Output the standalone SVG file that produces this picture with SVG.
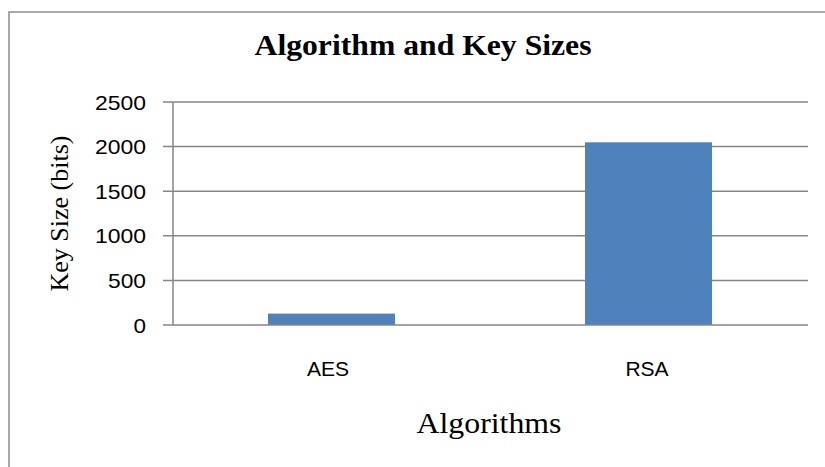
<svg xmlns="http://www.w3.org/2000/svg" width="825" height="467" viewBox="0 0 825 467">
<style>
.frame{fill:none;stroke:#8c8c8c;stroke-width:1.5}
.grid{stroke:#868686;stroke-width:1.5}
.bar{fill:#4f81bd}
.tick{font-family:"Liberation Sans",Arial,sans-serif;font-size:21px;fill:#000;text-anchor:end}
.cat{font-family:"Liberation Sans",Arial,sans-serif;font-size:21px;fill:#000;text-anchor:middle}
.serif{font-family:"Liberation Serif","Times New Roman",serif;fill:#000;text-anchor:middle}
</style>
<rect width="825" height="467" fill="#fff"/>
<path class="frame" d="M9,467 V12 H825"/>
<text class="serif" x="423" y="55" font-size="30" font-weight="bold" textLength="337" lengthAdjust="spacingAndGlyphs">Algorithm and Key Sizes</text>
<g id="axes">
<line class="grid" x1="163" y1="102" x2="808" y2="102"/>
<line class="grid" x1="163" y1="146.6" x2="808" y2="146.6"/>
<line class="grid" x1="163" y1="191.2" x2="808" y2="191.2"/>
<line class="grid" x1="163" y1="235.8" x2="808" y2="235.8"/>
<line class="grid" x1="163" y1="280.4" x2="808" y2="280.4"/>
<line class="grid" x1="173" y1="102" x2="173" y2="325"/>
</g>
<g id="bar-aes"><rect class="bar" x="268" y="313.6" width="127" height="11.4"/></g>
<g id="bar-rsa"><rect class="bar" x="585" y="142.3" width="127" height="182.7"/></g>
<line class="grid" x1="163" y1="325" x2="808" y2="325"/>
<g id="y-labels">
<text class="tick" x="146" y="109.5" textLength="51" lengthAdjust="spacingAndGlyphs">2500</text>
<text class="tick" x="146" y="154.1" textLength="51" lengthAdjust="spacingAndGlyphs">2000</text>
<text class="tick" x="146" y="198.7" textLength="51" lengthAdjust="spacingAndGlyphs">1500</text>
<text class="tick" x="146" y="243.3" textLength="51" lengthAdjust="spacingAndGlyphs">1000</text>
<text class="tick" x="146" y="287.9" textLength="38" lengthAdjust="spacingAndGlyphs">500</text>
<text class="tick" x="146" y="332.5" textLength="12.5" lengthAdjust="spacingAndGlyphs">0</text>
</g>
<text class="cat" x="328" y="376">AES</text>
<text class="cat" x="647" y="376">RSA</text>
<text class="serif" x="489" y="433" font-size="30" textLength="145" lengthAdjust="spacingAndGlyphs">Algorithms</text>
<text class="serif" font-size="26" transform="translate(68,213.5) rotate(-90)">Key Size (bits)</text>
</svg>
